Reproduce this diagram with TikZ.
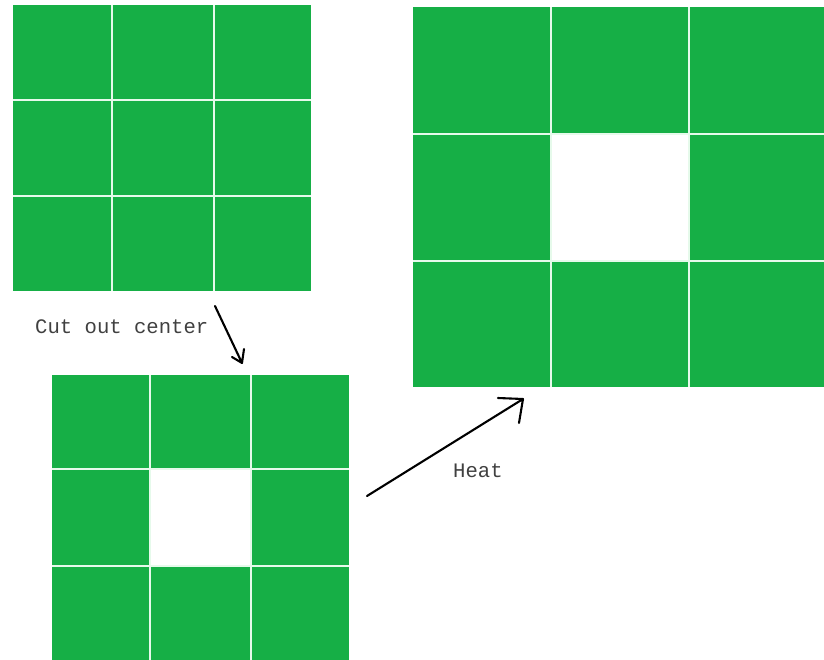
\documentclass[tikz,border=0pt]{standalone}
\usepackage{fontspec}
\setmonofont{Liberation Mono}
\definecolor{grn}{RGB}{22,175,70}
\definecolor{gap}{RGB}{230,250,235}
\begin{document}
\begin{tikzpicture}[x=1pt,y=-1pt,
  gridfill/.style={fill=grn,draw=none},
  gapline/.style={draw=gap,line width=1.6pt},
  hole/.style={fill=white,draw=none},
  pen/.style={draw=black,line width=2.1pt,line cap=round,line join=round},
  lbl/.style={font=\ttfamily\fontsize{20.6}{20.6}\selectfont,text=black!75,inner sep=0pt}]
\useasboundingbox (0,0) rectangle (824,660);
% top-left grid
\fill[gridfill] (13,5) rectangle (311,291);
\draw[gapline] (112,5) -- (112,291) (214,5) -- (214,291) (13,100) -- (311,100) (13,196) -- (311,196);
% bottom grid
\fill[gridfill] (52,375) rectangle (349,662);
\draw[gapline] (150,375) -- (150,662) (251,375) -- (251,662) (52,469) -- (349,469) (52,566) -- (349,566);
\fill[hole] (150.8,469.8) rectangle (250.2,565.2);
% right grid
\fill[gridfill] (413,7) rectangle (826,387);
\draw[gapline] (551,7) -- (551,387) (689,7) -- (689,387) (413,134) -- (826,134) (413,261) -- (826,261);
\fill[hole] (551.8,134.8) rectangle (688.2,260.2);
% labels
\node[lbl,anchor=west] (cut) at (35,327) {Cut out center};
\node[lbl,anchor=west] (heat) at (453,471) {Heat};
% arrows
\coordinate (a1s) at (215,306);
\coordinate (a1t) at (242,363);
\coordinate (a1l) at (232,357);
\coordinate (a1r) at (244,349);
\draw[pen] (a1s) -- (a1t) (a1l) -- (a1t) -- (a1r);
\coordinate (a2s) at (367,496);
\coordinate (a2t) at (523,399);
\coordinate (a2l) at (498,398);
\coordinate (a2r) at (519,423);
\draw[pen] (a2s) -- (a2t) (a2l) -- (a2t) -- (a2r);
\end{tikzpicture}
\end{document}
